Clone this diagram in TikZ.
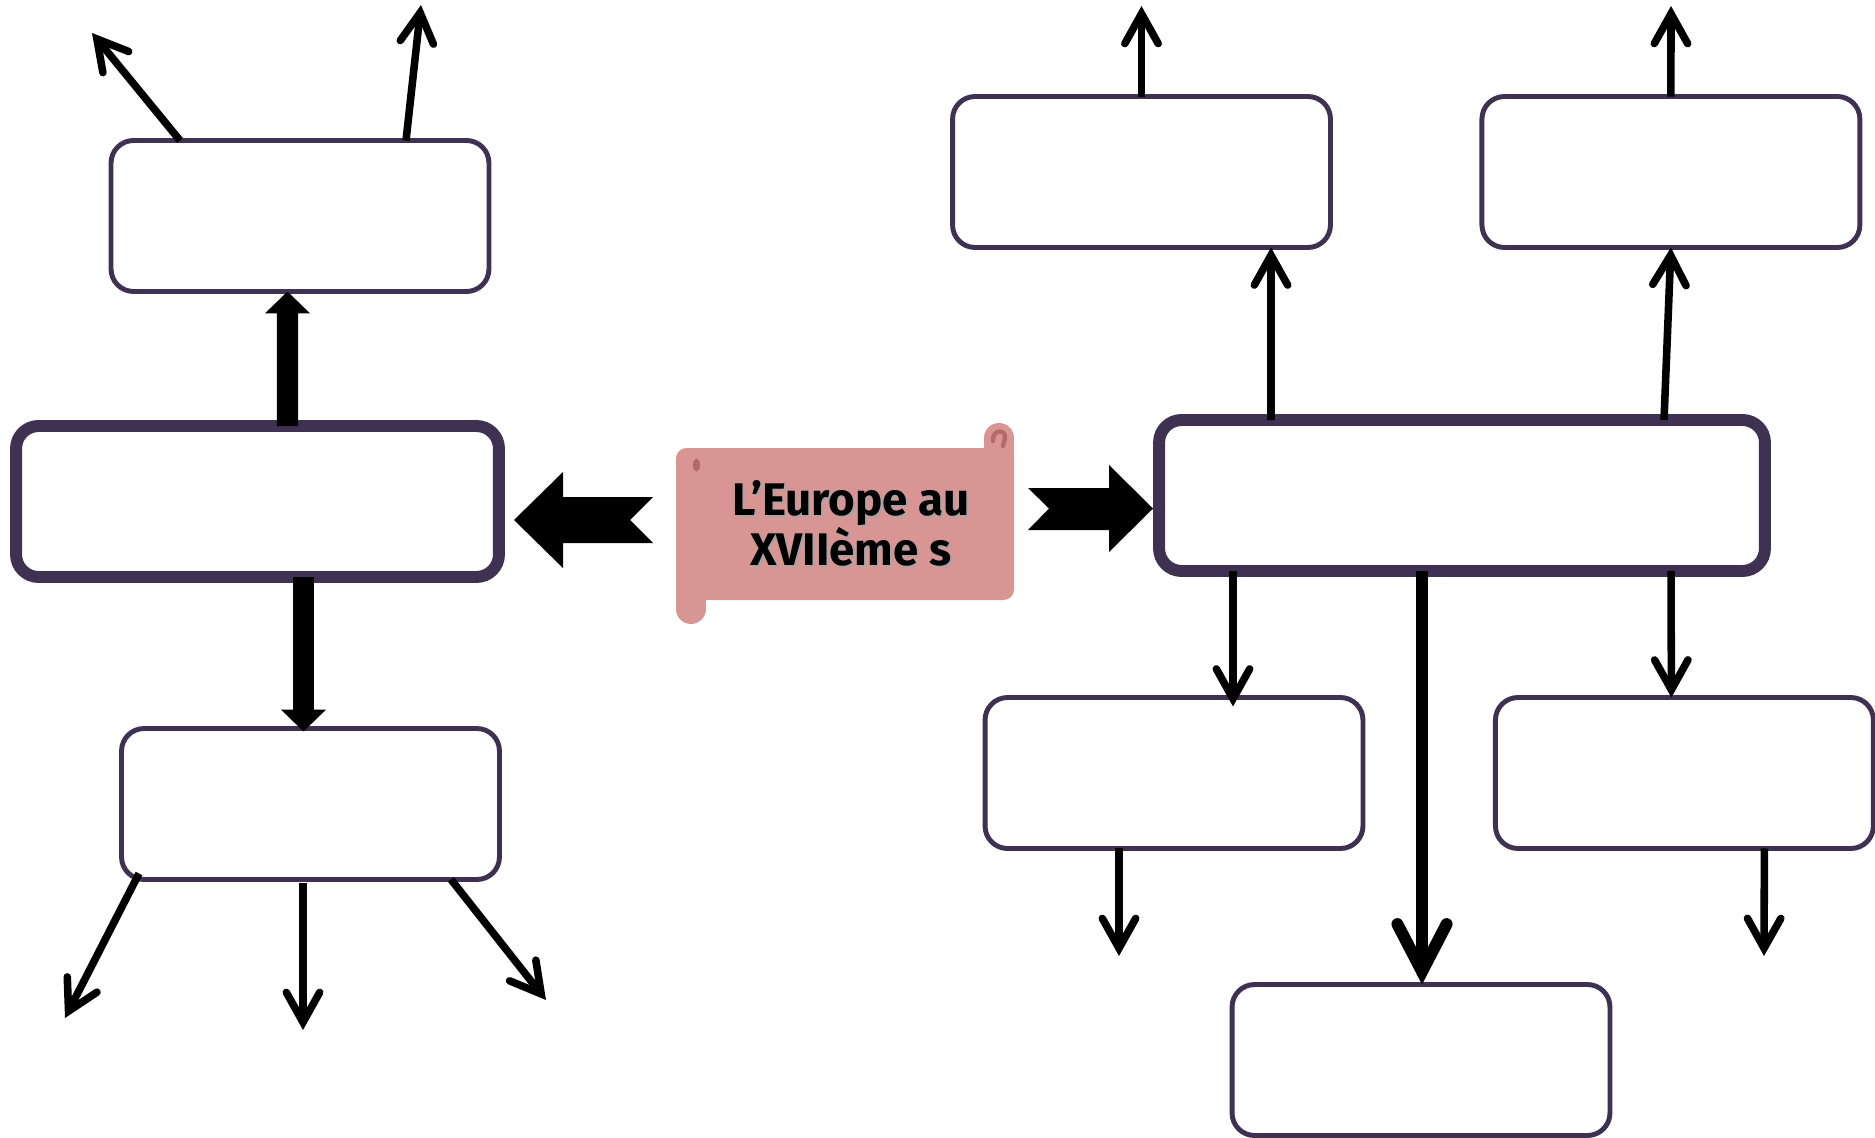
\documentclass[tikz,border=0pt]{standalone}
\usepackage{fontspec}
\usepackage{xcolor}
\usepackage{tikz}
\usetikzlibrary{positioning,arrows.meta}
\newfontfamily\titlefont{Fira Sans}
\definecolor{boxpurple}{HTML}{3F3151}
\definecolor{scrollpink}{HTML}{D99594}
\definecolor{scrolldark}{HTML}{B56A6A}

\begin{document}
\begin{tikzpicture}[x=0.02cm,y=-0.02cm]
  \tikzstyle{box}=[draw=boxpurple,fill=white,line width=2.8pt,rounded corners=0.45cm,minimum width=7.56cm,minimum height=3.02cm,inner sep=0pt,outer sep=0pt]
  \tikzstyle{mainbox}=[box,line width=6.8pt]
  \tikzstyle{link}=[line width=4.3pt,-{Straight Barb[length=17pt,width=19pt,line cap=round]}]
  \tikzstyle{biglink}=[line width=6.8pt,-{Straight Barb[length=27pt,width=28pt,line cap=round]}]
  \tikzstyle{blocklink}=[line width=12pt,-{Triangle[length=12.5pt,width=25pt]}]
  \tikzstyle{titletext}=[font=\titlefont\bfseries\fontsize{26}{27.3}\selectfont,align=center,inner sep=0pt]
  \useasboundingbox (0,0) rectangle (1875,1138);

  \node[mainbox,minimum width=9.66cm] (LM) at (257.5,501.5) {};
  \node[box] (LT) at (300,216) {};
  \node[box] (LB) at (310.5,804) {};
  \node[mainbox,minimum width=12.12cm] (RM) at (1462,495.5) {};
  \node[box] (RT1) at (1141.5,172) {};
  \node[box] (RT2)[right=3.03cm of RT1] {};
  \node[box] (RB1) at (1174,773) {};
  \node[box] (RB2)[right=2.65cm of RB1] {};
  \node[box] (RB3) at (1421,1060) {};

  % scroll
  \fill[scrollpink,rounded corners=6pt] (676,448) rectangle (1014,600);
  \fill[scrollpink] (984,438) rectangle (1014,460);
  \fill[scrollpink] (999,438) circle[radius=15];
  \fill[scrollpink] (676,590) rectangle (706,609);
  \fill[scrollpink] (691,609) circle[radius=15];
  \fill[scrolldark] (696.5,465) ellipse[x radius=3.5,y radius=6.5];
  \draw[scrolldark,line width=2.5pt,line cap=round] (993,441) .. controls (992,429) and (1006,429) .. (1005,438) -- (1003,446);
  \node[titletext,text=black!35] (titleshadow) at (853,525) {L’Europe au\\XVIIème s};
  \node[titletext] (title) at (851,523) {L’Europe au\\XVIIème s};

  \fill (514,520) -- (563,472) -- (563,497) -- (653,497) -- (630,520) -- (653,543) -- (563,543) -- (563,568) -- cycle;
  \fill (1153,508.5) -- (1109,465) -- (1109,488) -- (1028,488) -- (1049,508.5) -- (1028,530) -- (1109,530) -- (1109,552) -- cycle;

  \coordinate (LTa) at (92,33);
  \coordinate (LTb) at (421,5);
  \coordinate (LBa) at (65,1018);
  \coordinate (LBb) at (303,1030);
  \coordinate (LBc) at (546,1000);
  \coordinate (RT1a) at (1141.5,6);
  \coordinate (RT2a) at (1671,6);
  \coordinate (RB1a) at (1119,956);
  \coordinate (RB2a) at (1764,956);

  \draw[blocklink] ([shift={(30,0)}]LM.north) -- ([shift={(-12.5,0)}]LT.south);
  \draw[blocklink] ([shift={(46,0)}]LM.south) -- ([shift={(-7,3)}]LB.north);
  \draw[link] ([shift={(-120,0)}]LT.north) -- (LTa);
  \draw[link] ([shift={(106,0)}]LT.north) -- (LTb);
  \draw[link] ([shift={(-171.5,-6)}]LB.south) -- (LBa);
  \draw[link] ([shift={(-7.5,4)}]LB.south) -- (LBb);
  \draw[link] ([shift={(140.5,0)}]LB.south) -- (LBc);
  \draw[link] ([shift={(-191,0)}]RM.north) -- ([shift={(129.5,0)}]RT1.south);
  \draw[link] ([shift={(202,0)}]RM.north) -- (RT2.south);
  \draw[link] (RT1.north) -- (RT1a);
  \draw[link] (RT2.north) -- (RT2a);
  \draw[link] ([shift={(-229,0)}]RM.south) -- ([shift={(59,9)}]RB1.north);
  \draw[link] ([shift={(209,0)}]RM.south) -- ([shift={(-13,0)}]RB2.north);
  \draw[biglink] ([shift={(-40,0)}]RM.south) -- ([shift={(1,0)}]RB3.north);
  \draw[link] ([shift={(-55,0)}]RB1.south) -- (RB1a);
  \draw[link] ([shift={(80,0)}]RB2.south) -- (RB2a);
\end{tikzpicture}
\end{document}
